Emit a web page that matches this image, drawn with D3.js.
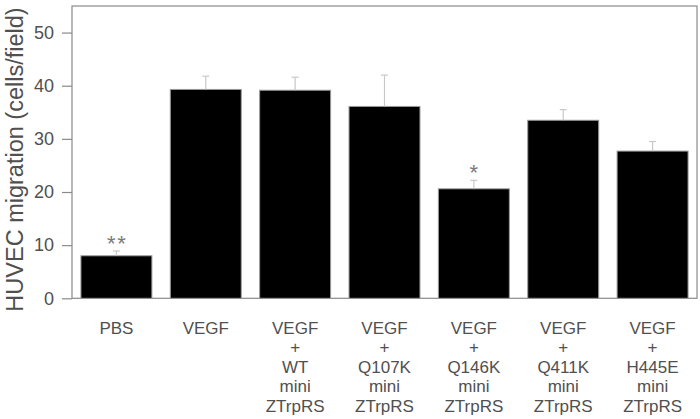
<!DOCTYPE html>
<html>
<head>
<meta charset="utf-8">
<script src="https://cdn.jsdelivr.net/npm/d3@7"></script>
<style>
  html, body { margin: 0; padding: 0; background: #fff; }
  svg { display: block; font-family: "Liberation Sans", Arial, sans-serif; }
</style>
</head>
<body>
<svg id="chart" width="700" height="419"></svg>
<script>
// ---- data ----
const categories = ["PBS", "VEGF", "VEGF+WT", "VEGF+Q107K", "VEGF+Q146K", "VEGF+Q411K", "VEGF+H445E"];
const categoryLabels = [
  ["PBS"],
  ["VEGF"],
  ["VEGF", "+", "WT", "mini", "ZTrpRS"],
  ["VEGF", "+", "Q107K", "mini", "ZTrpRS"],
  ["VEGF", "+", "Q146K", "mini", "ZTrpRS"],
  ["VEGF", "+", "Q411K", "mini", "ZTrpRS"],
  ["VEGF", "+", "H445E", "mini", "ZTrpRS"]
];
const values = [8.0, 39.3, 39.15, 36.1, 20.6, 33.5, 27.7];
const errors = [0.9, 2.5, 2.45, 5.9, 1.6, 2.0, 1.8];
const significance = ["**", "", "", "", "*", "", ""];
const yTicks = [0, 10, 20, 30, 40, 50];
const yLabel = "HUVEC migration (cells/field)";

(function () {
  const svg = d3.select("#chart");
  const mLeft = 72, mRight = 697, mTop = 6, mBottom = 298.3;

  const x = d3.scaleBand().domain(categories).range([mLeft, mRight])
    .paddingInner(0.206).paddingOuter(0.1);
  const y = d3.scaleLinear().domain([0, 55]).range([mBottom, mTop]);

  const textColor = "#505050";
  const axisColor = "#8a8a8a";

  // frame
  svg.append("rect")
    .attr("x", mLeft).attr("y", mTop)
    .attr("width", mRight - mLeft).attr("height", mBottom - mTop)
    .attr("fill", "none").attr("stroke", axisColor).attr("stroke-width", 1.2);

  // y axis
  const yAxis = svg.append("g")
    .attr("transform", `translate(${mLeft},0)`)
    .call(d3.axisLeft(y).tickValues(yTicks).tickSize(10).tickPadding(8).tickFormat(d3.format("d")));
  yAxis.select(".domain").remove();
  yAxis.selectAll(".tick line").attr("stroke", axisColor).attr("stroke-width", 1.2);
  yAxis.selectAll(".tick text")
    .attr("fill", textColor)
    .style("font-size", "18px")
    .style("font-family", "'Liberation Sans', Arial, sans-serif");

  // y label
  svg.append("text")
    .attr("transform", `translate(23,${(mTop + 313) / 2}) rotate(-90)`)
    .attr("text-anchor", "middle")
    .attr("fill", textColor)
    .style("font-size", "23.5px")
    .text(yLabel);

  // bars
  svg.append("g").selectAll("rect")
    .data(categories)
    .join("rect")
    .attr("x", (d) => x(d))
    .attr("y", (d, i) => y(values[i]))
    .attr("width", x.bandwidth())
    .attr("height", (d, i) => y(0) - y(values[i]))
    .attr("fill", "#000")
    .attr("stroke", "#9a9a9a")
    .attr("stroke-width", 1);

  // error bars
  const eb = svg.append("g").attr("stroke", "#c8c8c8").attr("stroke-width", 1.2);
  categories.forEach((c, i) => {
    const cx = x(c) + x.bandwidth() / 2;
    eb.append("line")
      .attr("x1", cx).attr("x2", cx)
      .attr("y1", y(values[i])).attr("y2", y(values[i] + errors[i]));
    eb.append("line")
      .attr("x1", cx - 3.5).attr("x2", cx + 3.5)
      .attr("y1", y(values[i] + errors[i])).attr("y2", y(values[i] + errors[i]));
  });

  // significance markers
  svg.append("g").selectAll("text")
    .data(categories)
    .join("text")
    .attr("x", (d) => x(d) + x.bandwidth() / 2 + 0.8)
    .attr("y", (d, i) => y(values[i] + errors[i]) - 0.5)
    .attr("text-anchor", "middle")
    .attr("fill", "#7a7a7a")
    .style("font-size", "22px")
    .style("letter-spacing", "1.6px")
    .text((d, i) => significance[i]);

  // x labels
  const xl = svg.append("g");
  categories.forEach((c, i) => {
    const cx = x(c) + x.bandwidth() / 2;
    const t = xl.append("text")
      .attr("text-anchor", "middle")
      .attr("fill", textColor)
      .style("font-size", "17px");
    categoryLabels[i].forEach((line, j) => {
      t.append("tspan").attr("x", cx).attr("y", 333.5 + j * 19.6).text(line);
    });
  });
})();
</script>
</body>
</html>
